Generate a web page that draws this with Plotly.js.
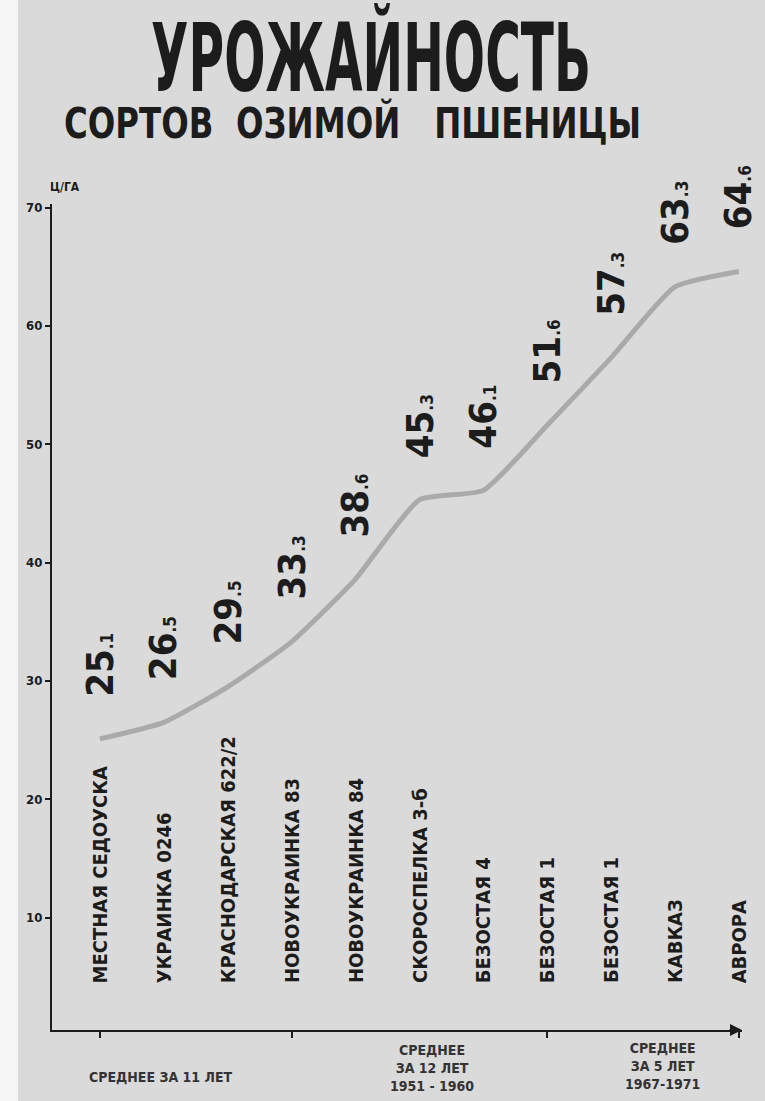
<!DOCTYPE html>
<html>
<head>
<meta charset="utf-8">
<script src="https://cdn.plot.ly/plotly-3.0.1.min.js"></script>
<style>
  html, body { margin: 0; padding: 0; background: #f4f4f4; }
  #chart { width: 765px; height: 1101px; }
</style>
</head>
<body>
<div id="chart"></div>
<script>
// ---- data ----
const varieties = [
  "МЕСТНАЯ СЕДОУСКА",
  "УКРАИНКА 0246",
  "КРАСНОДАРСКАЯ 622/2",
  "НОВОУКРАИНКА 83",
  "НОВОУКРАИНКА 84",
  "СКОРОСПЕЛКА 3-б",
  "БЕЗОСТАЯ 4",
  "БЕЗОСТАЯ 1",
  "БЕЗОСТАЯ 1",
  "КАВКАЗ",
  "АВРОРА"
];
const yields = [25.1, 26.5, 29.5, 33.3, 38.6, 45.3, 46.1, 51.6, 57.3, 63.3, 64.6];
const periodLabels = [
  "СРЕДНЕЕ ЗА 11 ЛЕТ",
  "СРЕДНЕЕ<br>ЗА 12 ЛЕТ<br>1951 - 1960",
  "СРЕДНЕЕ<br>ЗА 5 ЛЕТ<br>1967-1971"
];
const periodBounds = [0, 3, 7, 10];
const yTicks = [10, 20, 30, 40, 50, 60, 70];
const titleMain = "УРОЖАЙНОСТЬ";
const titleSub = "СОРТОВ &nbsp;ОЗИМОЙ &nbsp;&nbsp;ПШЕНИЦЫ";
const unitLabel = "Ц/ГА";

// ---- styling / placement ----
const FONT = "'DejaVu Sans Condensed', 'Liberation Sans Narrow', 'DejaVu Sans', sans-serif";
const INK = "#1c1c1c";
const PAPER = "#dadada";
const periodPos = [[0.95, -0.057], [5.2, -0.046], [8.8, -0.044]];

const xIdx = varieties.map((_, i) => i);

const trace = {
  type: "scatter",
  mode: "lines",
  x: xIdx,
  y: yields,
  line: { color: "#aaaaaa", width: 5, shape: "spline", smoothing: 0.5 },
  hoverinfo: "skip"
};

const annotations = [];

// value labels
yields.forEach((v, i) => {
  const intPart = Math.floor(v);
  const dec = Math.round((v - intPart) * 10);
  annotations.push({
    x: i, y: v, xref: "x", yref: "y",
    text: "<b>" + intPart + "</b><b><span style=\"font-size:17px\">." + dec + "</span></b>",
    showarrow: false,
    textangle: -90,
    yshift: 74,
    font: { family: FONT, size: 38, color: INK }
  });
});

// variety labels
varieties.forEach((name, i) => {
  annotations.push({
    x: i, y: 4.3, xref: "x", yref: "y",
    yanchor: "bottom",
    text: "<b>" + name + "</b>",
    showarrow: false,
    textangle: -90,
    font: { family: FONT, size: 20, color: INK }
  });
});

// period labels below axis
periodLabels.forEach((t, i) => {
  annotations.push({
    x: periodPos[i][0], y: periodPos[i][1], xref: "x", yref: "paper",
    yanchor: "middle",
    text: "<b>" + t + "</b>",
    showarrow: false,
    align: "center",
    font: { family: FONT, size: 14, color: "#333" }
  });
});

// unit label
annotations.push({
  x: 0, xref: "paper", y: 1.01, yref: "paper",
  xanchor: "left", yanchor: "bottom", xshift: -4,
  text: "<b>" + unitLabel + "</b>",
  showarrow: false,
  font: { family: FONT, size: 12, color: INK }
});

// subtitle
const SUB_INDEX = annotations.length;
annotations.push({
  x: 0.435, xref: "paper", y: 1.098, yref: "paper",
  xanchor: "center", yanchor: "middle",
  text: "<b>" + titleSub + "</b>",
  showarrow: false,
  font: { family: FONT, size: 36, color: INK }
});

// arrow at end of x axis
annotations.push({
  x: 10.05, y: 0.5, xref: "x", yref: "y",
  ax: -14, ay: 0, axref: "pixel", ayref: "pixel",
  showarrow: true, arrowhead: 2, arrowsize: 1.2, arrowwidth: 2, arrowcolor: INK,
  text: ""
});

const layout = {
  width: 765, height: 1101,
  paper_bgcolor: PAPER,
  plot_bgcolor: PAPER,
  margin: { l: 52, r: 23, t: 204, b: 71 },
  showlegend: false,
  title: {
    text: "<b>" + titleMain + "</b>",
    x: 0.485, xanchor: "center",
    y: 0.947, yanchor: "middle",
    font: { family: FONT, size: 54, color: INK }
  },
  shapes: [{
    type: "rect", xref: "paper", yref: "paper", layer: "below",
    x0: -52 / 690, x1: -34 / 690, y0: -71 / 826, y1: 1 + 204 / 826,
    fillcolor: "#f6f6f6", line: { width: 0 }
  }],
  xaxis: {
    range: [-0.75, 10.05],
    showgrid: false, zeroline: false,
    showline: true, linecolor: INK, linewidth: 2,
    tickmode: "array", tickvals: periodBounds, ticktext: periodBounds.map(() => ""),
    ticks: "outside", ticklen: 6, tickwidth: 2, tickcolor: INK,
    fixedrange: true
  },
  yaxis: {
    range: [0.5, 70.3],
    showgrid: false, zeroline: false,
    showline: true, linecolor: INK, linewidth: 2,
    tickmode: "array", tickvals: yTicks, ticktext: yTicks.map(t => "<b>" + t + "</b>"),
    ticks: "outside", ticklen: 5, tickwidth: 2, tickcolor: INK,
    ticklabelstandoff: 0,
    tickfont: { family: FONT, size: 13, color: INK },
    fixedrange: true
  },
  annotations: annotations
};

function stretchY(el, s) {
  if (!el) return;
  const bb = el.getBBox();
  const cy = bb.y + bb.height / 2;
  const prev = el.getAttribute("transform") || "";
  el.setAttribute("transform", prev + " translate(0," + cy + ") scale(1," + s + ") translate(0," + (-cy) + ")");
}

Plotly.newPlot("chart", [trace], layout, { staticPlot: true }).then(gd => {
  stretchY(gd.querySelector(".gtitle"), 1.75);
  const anns = gd.querySelectorAll(".annotation");
  if (anns[SUB_INDEX]) stretchY(anns[SUB_INDEX].querySelector("text"), 1.2);
});
</script>
</body>
</html>
